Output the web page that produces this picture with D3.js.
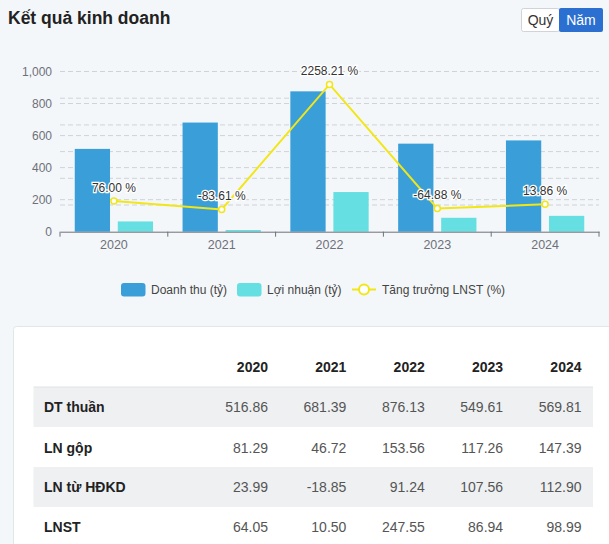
<!DOCTYPE html>
<html>
<head>
<meta charset="utf-8">
<script src="https://cdn.jsdelivr.net/npm/d3@7"></script>
<style>
  html, body { margin: 0; padding: 0; background: #f4f7f9; }
  svg { display: block; font-family: "Liberation Sans", Arial, sans-serif; }
</style>
</head>
<body>
<svg id="c" width="609" height="544"></svg>
<script>
// ---- data ----
const years = ["2020", "2021", "2022", "2023", "2024"];
const revenue = [516.86, 681.39, 876.13, 549.61, 569.81];   // Doanh thu (tỷ)
const profit = [64.05, 10.50, 247.55, 86.94, 98.99];         // Lợi nhuận (tỷ)
const growth = [76.00, -83.61, 2258.21, -64.88, 13.86];      // Tăng trưởng LNST (%)
const yTicks = [0, 200, 400, 600, 800, 1000];
const y2Ticks = [-500, 0, 500, 1000, 1500, 2000, 2500];
const rowLabels = ["DT thuần", "LN gộp", "LN từ HĐKD", "LNST"];
const rowDT = [516.86, 681.39, 876.13, 549.61, 569.81];
const rowLNGop = [81.29, 46.72, 153.56, 117.26, 147.39];
const rowLNHDKD = [23.99, -18.85, 91.24, 107.56, 112.90];
const rowLNST = [64.05, 10.50, 247.55, 86.94, 98.99];
const seriesNames = ["Doanh thu (tỷ)", "Lợi nhuận (tỷ)", "Tăng trưởng LNST (%)"];

const C_DARK = "#3a9fd9", C_LIGHT = "#65dfe2", C_LINE = "#f2e616";
const fmt2 = d3.formatLocale({ decimal: ".", thousands: ",", grouping: [3], currency: ["", ""], minus: "-" }).format(".2f");

const svg = d3.select("#c");

// ---- header ----
svg.append("text").attr("x", 8).attr("y", 18).attr("dominant-baseline", "central")
  .attr("font-size", 17.5).attr("font-weight", "bold").attr("fill", "#222")
  .text("Kết quả kinh doanh");

const btn = svg.append("g");
btn.append("rect").attr("x", 521.5).attr("y", 8.5).attr("width", 38).attr("height", 23)
  .attr("fill", "#fff").attr("stroke", "#d0d4d8").attr("rx", 2);
btn.append("rect").attr("x", 559).attr("y", 8).attr("width", 44).attr("height", 24)
  .attr("fill", "#2b6fd1").attr("rx", 2);
btn.append("text").attr("x", 540.5).attr("y", 20).attr("text-anchor", "middle")
  .attr("dominant-baseline", "central").attr("font-size", 14).attr("fill", "#333").text("Quý");
btn.append("text").attr("x", 581).attr("y", 20).attr("text-anchor", "middle")
  .attr("dominant-baseline", "central").attr("font-size", 14).attr("fill", "#fff").text("Năm");

// ---- chart ----
const x = d3.scaleBand().domain(years).range([60, 599]);
const y = d3.scaleLinear().domain([0, 1000]).range([231.7, 71.5]);
const y2 = d3.scaleLinear().domain([-500, 2500]).range([231.7, 71.5]);
const groupW = 78.3;
const xi = d3.scaleBand().domain([0, 1]).range([0, groupW]).paddingInner(0.18);
const gx = d => x(d) + (x.bandwidth() - groupW) / 2;

// grid lines
const grid = svg.append("g");
grid.selectAll(".g1").data(yTicks.slice(1)).join("line")
  .attr("x1", 60).attr("x2", 599).attr("y1", d => y(d)).attr("y2", d => y(d))
  .attr("stroke", "#cfd3d8").attr("stroke-dasharray", "5,3");
grid.selectAll(".g2").data(y2Ticks.slice(1, -1)).join("line")
  .attr("x1", 60).attr("x2", 599).attr("y1", d => y2(d)).attr("y2", d => y2(d))
  .attr("stroke", "#cfd3d8").attr("stroke-dasharray", "5,3");

// y axis labels
svg.append("g").selectAll("text").data(yTicks).join("text")
  .attr("x", 52).attr("y", d => y(d)).attr("text-anchor", "end")
  .attr("dominant-baseline", "central").attr("font-size", 12).attr("fill", "#6e7079")
  .text(d => d3.format(",")(d));

// bars
svg.append("g").selectAll("rect").data(years).join("rect")
  .attr("x", d => gx(d) + xi(0)).attr("width", xi.bandwidth())
  .attr("y", (d, i) => y(revenue[i])).attr("height", (d, i) => y(0) - y(revenue[i]))
  .attr("fill", C_DARK);
svg.append("g").selectAll("rect").data(years).join("rect")
  .attr("x", d => gx(d) + xi(1)).attr("width", xi.bandwidth())
  .attr("y", (d, i) => y(profit[i])).attr("height", (d, i) => y(0) - y(profit[i]))
  .attr("fill", C_LIGHT);

// x axis
const xAxis = d3.axisBottom(x).tickSize(0).tickPadding(8);
const ax = svg.append("g").attr("transform", `translate(0,${y(0)})`).call(xAxis);
ax.select(".domain").attr("stroke", "#6e7079");
ax.selectAll("text").attr("font-size", 12.5).attr("fill", "#6e7079")
  .attr("font-family", "Liberation Sans, Arial, sans-serif");
const edges = years.map(d => x(d)).concat([x.range()[1]]);
ax.selectAll(".edge").data(edges).join("line").attr("class", "edge")
  .attr("x1", d => d).attr("x2", d => d).attr("y1", 0).attr("y2", 5).attr("stroke", "#6e7079");

// line
const cx = d => x(d) + x.bandwidth() / 2;
const line = d3.line().x((d, i) => cx(years[i])).y(d => y2(d));
svg.append("path").datum(growth).attr("d", line).attr("fill", "none")
  .attr("stroke", C_LINE).attr("stroke-width", 2);
svg.append("g").selectAll("circle").data(growth).join("circle")
  .attr("cx", (d, i) => cx(years[i])).attr("cy", d => y2(d)).attr("r", 3)
  .attr("fill", "#fff").attr("stroke", C_LINE).attr("stroke-width", 1.5);
svg.append("g").selectAll("text").data(growth).join("text")
  .attr("x", (d, i) => cx(years[i])).attr("y", d => y2(d) - 13)
  .attr("text-anchor", "middle").attr("dominant-baseline", "central")
  .attr("font-size", 12).attr("fill", "#333")
  .attr("stroke", "#fff").attr("stroke-width", 2.5).attr("paint-order", "stroke")
  .text(d => fmt2(d) + " %");

// legend
const lg = svg.append("g");
const legendItems = [
  { name: seriesNames[0], x: 121, type: "bar", color: C_DARK },
  { name: seriesNames[1], x: 237, type: "bar", color: C_LIGHT },
  { name: seriesNames[2], x: 352, type: "line", color: C_LINE }
];
legendItems.forEach(it => {
  if (it.type === "bar") {
    lg.append("rect").attr("x", it.x).attr("y", 283).attr("width", 24.5).attr("height", 13.5)
      .attr("rx", 3).attr("fill", it.color);
  } else {
    lg.append("line").attr("x1", it.x).attr("x2", it.x + 24).attr("y1", 289.5).attr("y2", 289.5)
      .attr("stroke", it.color).attr("stroke-width", 2);
    lg.append("circle").attr("cx", it.x + 12).attr("cy", 289.5).attr("r", 5)
      .attr("fill", "#fff").attr("stroke", it.color).attr("stroke-width", 2);
  }
  lg.append("text").attr("x", it.x + 30).attr("y", 289.5).attr("dominant-baseline", "central")
    .attr("font-size", 12).attr("fill", "#444").text(it.name);
});

// ---- table ----
svg.append("rect").attr("x", 13.5).attr("y", 326.5).attr("width", 620).attr("height", 240)
  .attr("fill", "#fff").attr("stroke", "#e1e6ea").attr("rx", 3);

const colX = d3.scalePoint().domain(years).range([268, 581.5]);
const rows = [rowDT, rowLNGop, rowLNHDKD, rowLNST];
const rowY = [407, 447.5, 487, 527];

svg.append("g").selectAll("rect").data([0, 2]).join("rect")
  .attr("x", 33.5).attr("width", 559.5).attr("y", i => rowY[i] - 20).attr("height", 40)
  .attr("fill", "#eef0f2");
svg.append("line").attr("x1", 33.5).attr("x2", 593).attr("y1", 387).attr("y2", 387)
  .attr("stroke", "#dfe3e7");

svg.append("g").selectAll("text").data(years).join("text")
  .attr("x", d => colX(d)).attr("y", 367).attr("text-anchor", "end")
  .attr("dominant-baseline", "central").attr("font-size", 14).attr("font-weight", "bold")
  .attr("fill", "#222").text(d => d);

rows.forEach((r, ri) => {
  svg.append("text").attr("x", 44).attr("y", rowY[ri]).attr("dominant-baseline", "central")
    .attr("font-size", 14).attr("font-weight", "bold").attr("fill", "#222").text(rowLabels[ri]);
  svg.append("g").selectAll("text").data(r).join("text")
    .attr("x", (d, i) => colX(years[i])).attr("y", rowY[ri]).attr("text-anchor", "end")
    .attr("dominant-baseline", "central").attr("font-size", 14).attr("fill", "#555")
    .text(d => fmt2(d));
});
</script>
</body>
</html>
